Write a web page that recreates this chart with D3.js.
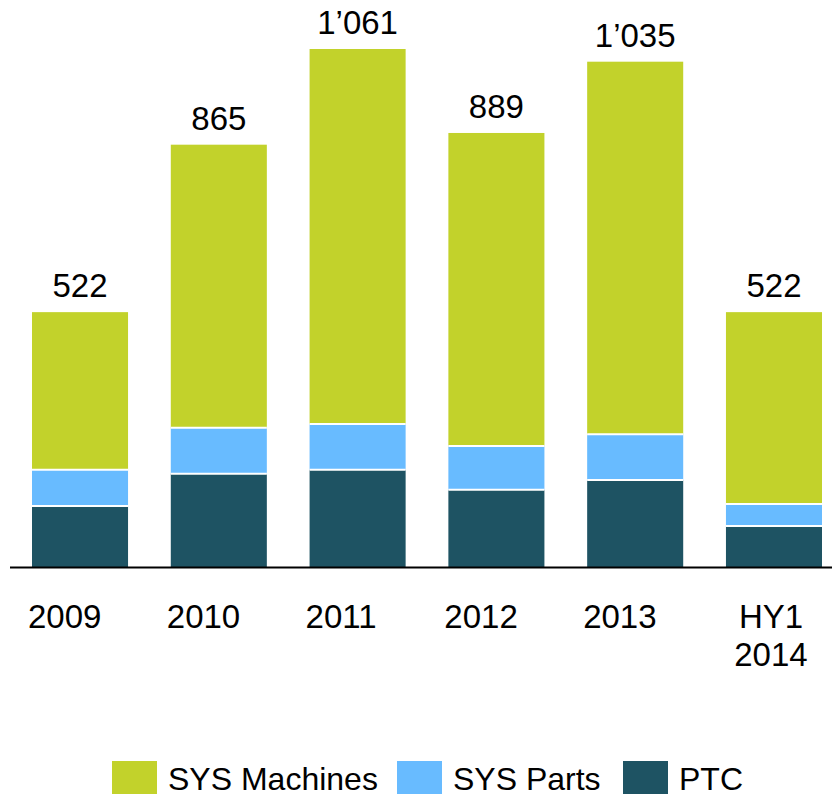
<!DOCTYPE html>
<html>
<head>
<meta charset="utf-8">
<script src="https://cdn.jsdelivr.net/npm/d3@7"></script>
<style>
  body { margin: 0; background: #fff; }
  svg text { font-family: "Liberation Sans", Arial, sans-serif; fill: #000; }
</style>
</head>
<body>
<svg id="myGraph" width="832" height="794"></svg>
<script>
// カテゴリと系列データ
var categories = ["2009", "2010", "2011", "2012", "2013", "HY1\n2014"];
var ptc        = [125, 191, 199, 158, 178, 84];
var sysParts   = [74, 94, 94, 90, 94, 45];
var sysMachines= [323, 580, 768, 641, 763, 393];
var totals     = [522, 865, 1061, 889, 1035, 522];

var seriesKeys  = ["PTC", "SYS Parts", "SYS Machines"];
var legendOrder = ["SYS Machines", "SYS Parts", "PTC"];
var colors = { "SYS Machines": "#c2d22b", "SYS Parts": "#68bbff", "PTC": "#1e5363" };

var rows = categories.map(function(c, i){
    return { cat: c, "PTC": ptc[i], "SYS Parts": sysParts[i], "SYS Machines": sysMachines[i], total: totals[i] };
});

var svg = d3.select("#myGraph");
var baseY = 567;

var x = d3.scaleBand().domain(categories).range([32, 822]).paddingInner(0.308).paddingOuter(0);
var y = d3.scaleLinear().domain([0, 1061]).range([baseY, 49]);

var stacked = d3.stack().keys(seriesKeys)(rows);

var layer = svg.selectAll("g.layer")
    .data(stacked)
    .enter()
    .append("g")
    .attr("class", "layer")
    .attr("fill", function(d){ return colors[d.key]; });

layer.selectAll("rect")
    .data(function(d){ return d; })
    .enter()
    .append("rect")
    .attr("x", function(d){ return x(d.data.cat); })
    .attr("width", x.bandwidth())
    .attr("y", function(d){ return y(d[1]); })
    .attr("height", function(d){ return y(d[0]) - y(d[1]); });

// 区切りの白線
layer.selectAll("line")
    .data(function(d){ return d.filter(function(s){ return s[0] > 0; }); })
    .enter()
    .append("line")
    .attr("x1", function(d){ return x(d.data.cat); })
    .attr("x2", function(d){ return x(d.data.cat) + x.bandwidth(); })
    .attr("y1", function(d){ return y(d[0]); })
    .attr("y2", function(d){ return y(d[0]); })
    .attr("stroke", "#fff")
    .attr("stroke-width", 2);

// 合計ラベル
var fmt = d3.formatLocale({ decimal: ".", thousands: "\u2019", grouping: [3], currency: ["", ""] }).format(",d");
svg.selectAll("text.total")
    .data(rows)
    .enter()
    .append("text")
    .attr("class", "total")
    .attr("x", function(d){ return x(d.cat) + x.bandwidth() / 2; })
    .attr("y", function(d){ return y(d.total) - 15; })
    .attr("text-anchor", "middle")
    .attr("font-size", 33)
    .text(function(d){ return fmt(d.total); });

// 軸線
svg.append("line")
    .attr("x1", 10).attr("x2", 832)
    .attr("y1", baseY + 0.5).attr("y2", baseY + 0.5)
    .attr("stroke", "#000")
    .attr("stroke-width", 2);

// x軸ラベル（1行のものは左寄せ、2行のものは中央）
var xl = svg.selectAll("text.xlab")
    .data(categories)
    .enter()
    .append("text")
    .attr("class", "xlab")
    .attr("font-size", 33)
    .attr("y", 628)
    .attr("text-anchor", function(d){ return d.indexOf("\n") >= 0 ? "middle" : "start"; });
xl.selectAll("tspan")
    .data(function(d){ return d.split("\n").map(function(t){ return { t: t, c: d }; }); })
    .enter()
    .append("tspan")
    .attr("x", function(d){
        return d.c.indexOf("\n") >= 0 ? x(d.c) + x.bandwidth() / 2 - 3 : x(d.c) - 4;
    })
    .attr("dy", function(d, i){ return i === 0 ? 0 : 38; })
    .text(function(d){ return d.t; });

// 凡例
var legendX = [112, 397, 623];
var leg = svg.selectAll("g.legend")
    .data(legendOrder)
    .enter()
    .append("g")
    .attr("class", "legend")
    .attr("transform", function(d, i){ return "translate(" + legendX[i] + ",761)"; });
leg.append("rect")
    .attr("width", 45)
    .attr("height", 45)
    .attr("fill", function(d){ return colors[d]; });
leg.append("text")
    .attr("x", 56)
    .attr("y", 29)
    .attr("font-size", 32)
    .text(function(d){ return d; });
</script>
</body>
</html>
